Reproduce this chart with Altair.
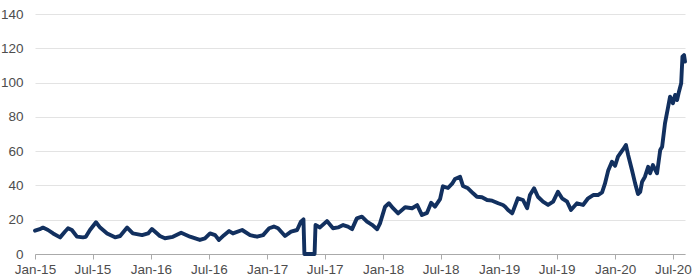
import altair as alt
import pandas as pd

dates = [
    "2015-01-01", "2015-01-16", "2015-01-26", "2015-02-11", "2015-02-27", "2015-03-21",
    "2015-04-05", "2015-04-15", "2015-04-27", "2015-05-13", "2015-06-01", "2015-06-10",
    "2015-06-23", "2015-07-12", "2015-07-25", "2015-08-16", "2015-09-10", "2015-09-26",
    "2015-10-18", "2015-11-05", "2015-12-04", "2015-12-23",
    "2016-01-04", "2016-01-14", "2016-01-29", "2016-02-14", "2016-03-10", "2016-04-05",
    "2016-05-03", "2016-06-03", "2016-06-19", "2016-07-05", "2016-07-21", "2016-08-02",
    "2016-08-18", "2016-09-03", "2016-09-15", "2016-10-14", "2016-11-08", "2016-11-30",
    "2016-12-19",
    "2017-01-07", "2017-01-22", "2017-02-04", "2017-02-26", "2017-03-17", "2017-04-05",
    "2017-04-17", "2017-04-25", "2017-04-28", "2017-05-30", "2017-06-02", "2017-06-16",
    "2017-07-08", "2017-07-27", "2017-08-12", "2017-08-28", "2017-09-12", "2017-09-25",
    "2017-10-10", "2017-10-26", "2017-11-11", "2017-11-27", "2017-12-13", "2017-12-22",
    "2018-01-07", "2018-01-19", "2018-02-01", "2018-02-17", "2018-03-11", "2018-04-02",
    "2018-04-18", "2018-05-03", "2018-05-19", "2018-06-01", "2018-06-13", "2018-06-29",
    "2018-07-08", "2018-07-24", "2018-08-06", "2018-08-15", "2018-08-31", "2018-09-09",
    "2018-09-25", "2018-10-11", "2018-10-23", "2018-11-08", "2018-11-24", "2018-12-10",
    "2018-12-29",
    "2019-01-13", "2019-01-20", "2019-01-29", "2019-02-11", "2019-03-01", "2019-03-17",
    "2019-03-30", "2019-04-08", "2019-04-21", "2019-05-03", "2019-05-19", "2019-06-04",
    "2019-06-20", "2019-07-05", "2019-07-18", "2019-08-03", "2019-08-15", "2019-09-03",
    "2019-09-22", "2019-10-08", "2019-10-24", "2019-11-08", "2019-11-21", "2019-11-30",
    "2019-12-10", "2019-12-22",
    "2020-01-01", "2020-01-10", "2020-01-26", "2020-02-04", "2020-02-11", "2020-02-23",
    "2020-03-04", "2020-03-13", "2020-03-20", "2020-03-26", "2020-04-04", "2020-04-14",
    "2020-04-20", "2020-04-29", "2020-05-12", "2020-05-22", "2020-05-28", "2020-06-06",
    "2020-06-16", "2020-06-22", "2020-07-01", "2020-07-08", "2020-07-14", "2020-07-20",
    "2020-07-27", "2020-07-31", "2020-08-05", "2020-08-08",
]

values = [
    13.6, 14.5, 15.4, 14.0, 12.0, 9.7,
    13.0, 15.0, 14.0, 10.1, 9.7, 10.0,
    14.0, 18.5, 15.4, 12.0, 9.7, 10.5,
    15.4, 12.0, 11.0, 12.0,
    14.6, 13.0, 10.5, 9.2, 10.0, 12.4,
    10.1, 8.2, 9.1, 12.0, 11.0, 8.2,
    11.0, 13.4, 12.0, 14.0, 11.0, 10.1,
    11.0,
    15.0, 16.0, 15.0, 10.5, 13.0, 14.0,
    18.9, 20.2, 0.0, 0.0, 16.9, 15.5,
    19.2, 15.0, 15.5, 16.9, 16.0, 14.5,
    20.8, 21.8, 18.9, 17.0, 14.5, 17.9,
    27.6, 29.6, 26.7, 23.7, 27.3, 26.7,
    28.5, 22.7, 24.0, 29.9, 27.6, 32.0,
    39.5, 38.5, 41.0, 43.7, 45.0, 39.7,
    38.3, 35.4, 33.4, 33.1, 31.5, 31.1,
    29.6,
    28.6, 27.6, 25.7, 23.7, 32.5, 31.5,
    26.7, 34.4, 38.3, 33.4, 30.5, 28.6,
    30.5, 36.3, 32.5, 30.5, 25.7, 29.6,
    28.6, 32.5, 34.4, 34.4, 36.0, 41.0,
    48.5, 53.8,
    51.5, 56.8, 61.0, 63.6, 57.8, 49.0,
    41.2, 35.0, 36.3, 42.2, 45.1, 50.9,
    47.1, 51.9, 47.1, 60.7, 62.6, 76.2,
    85.9, 91.8, 87.9, 92.8, 89.8, 94.7,
    99.6, 115.1, 116.0, 112.2,
]

tick_years = [2015, 2015, 2016, 2016, 2017, 2017, 2018, 2018, 2019, 2019, 2020, 2020]
tick_months = [1, 7, 1, 7, 1, 7, 1, 7, 1, 7, 1, 7]
y_ticks = [0, 20, 40, 60, 80, 100, 120, 140]

df = pd.DataFrame({"date": dates, "value": values})

tick_values = [alt.DateTime(year=y, month=m, date=1, utc=True) for y, m in zip(tick_years, tick_months)]

chart = alt.Chart(df).mark_line(
    color="#12305f", strokeWidth=3.9, strokeJoin="round", strokeCap="round"
).encode(
    x=alt.X(
        "date:T",
        scale=alt.Scale(
            type="utc",
            domain=[alt.DateTime(year=2015, month=1, date=1, utc=True),
                    alt.DateTime(year=2020, month=8, date=8, utc=True)],
        ),
        axis=alt.Axis(
            values=tick_values, labelExpr="utcFormat(datum.value, '%b-%y')", title=None,
            grid=False, tickSize=5, tickColor="#aaaaaa", domainColor="#aaaaaa",
            labelPadding=3, labelFont="Liberation Sans", labelFontSize=13.5,
            labelColor="#4d4d4d", labelFlush=False,
        ),
    ),
    y=alt.Y(
        "value:Q",
        scale=alt.Scale(domain=[0, 140], nice=False),
        axis=alt.Axis(
            values=y_ticks, title=None, domain=False, ticks=False, grid=True,
            gridColor="#e3e3e3", gridWidth=1, labelPadding=12,
            labelFont="Liberation Sans", labelFontSize=13.5, labelColor="#4d4d4d",
        ),
    ),
).properties(
    width=650, height=240,
    autosize=alt.AutoSizeParams(type="none"),
    padding={"left": 35, "top": 14, "right": 15, "bottom": 26},
).configure_view(stroke=None)

chart.save("out.html", embed_options={"renderer": "svg", "actions": False})
